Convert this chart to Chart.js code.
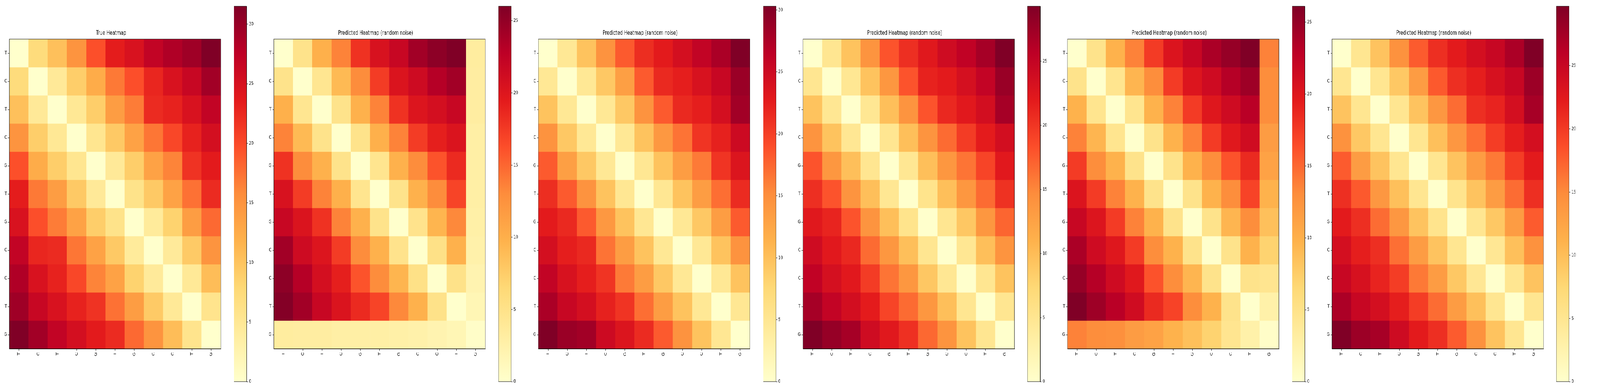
<!DOCTYPE html>
<html>
<head>
<meta charset="utf-8">
<script src="https://cdn.jsdelivr.net/npm/chart.js@4.4.1/dist/chart.umd.min.js"></script>
<style>
  html, body { margin: 0; background: #fff; overflow: hidden; }
  #wrap { position: absolute; left: 0; top: 0; width: 6000px; height: 1000px; transform-origin: 0 0; }
  canvas { position: absolute; top: 0; }
</style>
</head>
<body>
<div id="wrap"></div>
<script>
// sequence labels, both axes
var seq = ['T', 'C', 'T', 'C', 'G', 'T', 'G', 'C', 'C', 'T', 'G'];

var titles = ['True Heatmap', 'Predicted Heatmap (random noise)', 'Predicted Heatmap (random noise)',
  'Predicted Heatmap (random noise)', 'Predicted Heatmap (random noise)', 'Predicted Heatmap (random noise)'];

var cbTicks = [0, 5, 10, 15, 20, 25, 30];

var trueHeat = [
  [0, 7.3, 10.4, 15.0, 19.6, 23.5, 24.8, 27.0, 28.4, 29.5, 31.5],
  [7.3, 0, 4.7, 9.0, 12.5, 17.0, 19.7, 22.7, 24.8, 26.5, 29.3],
  [10.4, 4.7, 0, 5.0, 9.0, 14.0, 16.8, 22.3, 23.0, 24.8, 27.0],
  [15.0, 9.0, 5.0, 0, 5.4, 9.5, 13.5, 17.2, 20.2, 23.0, 25.3],
  [19.6, 12.5, 9.0, 5.4, 0, 4.7, 9.0, 13.5, 16.3, 21.7, 23.6],
  [23.5, 17.0, 14.0, 9.5, 4.7, 0, 6.0, 9.5, 13.5, 17.5, 22.3],
  [24.8, 19.7, 16.8, 13.5, 9.0, 6.0, 0, 4.4, 8.5, 14.0, 18.0],
  [27.0, 22.7, 22.3, 17.2, 13.5, 9.5, 4.4, 0, 4.5, 9.4, 15.0],
  [28.4, 24.8, 23.0, 20.2, 16.3, 13.5, 8.5, 4.5, 0, 4.8, 10.7],
  [29.5, 26.5, 24.8, 23.0, 21.7, 17.5, 14.0, 9.4, 4.8, 0, 5.7],
  [31.5, 29.3, 27.0, 25.3, 23.6, 22.3, 18.0, 15.0, 10.7, 5.7, 0]
];

var pred1 = [
  [0, 4.9, 9.9, 13.5, 18.0, 20.5, 21.9, 24.2, 25.3, 26.0, 3.3],
  [4.9, 0, 4.4, 9.1, 13.0, 17.4, 20.3, 21.4, 23.1, 24.2, 3.2],
  [9.9, 4.4, 0, 4.9, 9.8, 13.5, 18.0, 20.1, 20.9, 21.9, 3.2],
  [13.5, 9.1, 4.9, 0, 4.9, 9.9, 13.5, 17.4, 19.2, 20.3, 2.9],
  [18.0, 13.0, 9.8, 4.9, 0, 4.6, 9.8, 13.0, 16.0, 18.5, 2.9],
  [20.5, 17.4, 13.5, 9.9, 4.6, 0, 4.9, 9.8, 13.0, 16.9, 2.9],
  [21.9, 20.3, 18.0, 13.5, 9.8, 4.9, 0, 4.8, 9.5, 13.2, 2.7],
  [24.2, 21.4, 20.1, 17.4, 13.0, 9.8, 4.8, 0, 5.2, 9.8, 2.5],
  [25.3, 23.1, 20.9, 19.2, 16.0, 13.0, 9.5, 5.2, 0, 5.0, 2.1],
  [25.8, 24.2, 21.9, 20.3, 18.5, 16.9, 13.2, 9.8, 5.0, 0, 1.7],
  [3.3, 3.2, 3.2, 2.9, 2.9, 2.9, 2.7, 2.5, 2.1, 1.7, 0.3]
];

var pred2 = [
  [0, 4.8, 9.7, 14.5, 18.2, 21.3, 22.7, 24.3, 26.0, 27.6, 30.3],
  [4.8, 0, 4.8, 9.2, 13.3, 18.2, 21.6, 22.4, 23.9, 25.5, 28.7],
  [9.7, 4.8, 0, 4.8, 9.2, 14.5, 18.2, 21.6, 22.4, 24.3, 28.2],
  [14.5, 9.2, 4.8, 0, 4.8, 9.7, 14.0, 16.7, 20.8, 22.2, 25.0],
  [18.2, 13.3, 9.2, 4.8, 0, 5.0, 9.7, 13.5, 16.3, 20.8, 23.5],
  [21.3, 18.2, 14.5, 9.7, 5.0, 0, 5.0, 9.7, 13.5, 17.0, 21.5],
  [22.7, 21.6, 18.2, 14.0, 9.7, 5.0, 0, 4.8, 9.2, 13.5, 18.2],
  [24.3, 22.4, 21.6, 16.7, 13.5, 9.7, 4.8, 0, 4.8, 9.7, 14.5],
  [26.0, 23.9, 22.4, 20.8, 16.3, 13.5, 9.2, 4.8, 0, 4.8, 9.7],
  [27.6, 25.5, 24.3, 22.2, 20.8, 17.0, 13.5, 9.7, 4.8, 0, 5.0],
  [30.3, 28.7, 28.2, 25.0, 23.5, 21.5, 18.2, 14.5, 9.7, 5.0, 0]
];

var pred3 = [
  [0, 5.0, 9.4, 14.0, 18.0, 20.5, 22.3, 24.0, 25.3, 27.0, 29.3],
  [5.0, 0, 4.8, 9.4, 13.7, 18.0, 21.4, 22.0, 23.4, 25.1, 27.8],
  [9.4, 4.8, 0, 4.8, 9.8, 14.0, 18.0, 21.0, 22.2, 23.6, 27.0],
  [14.0, 9.4, 4.8, 0, 5.0, 9.8, 14.0, 16.6, 19.6, 21.9, 23.6],
  [18.0, 13.7, 9.8, 5.0, 0, 4.8, 9.8, 13.7, 16.1, 19.0, 22.2],
  [20.5, 18.0, 14.0, 9.8, 4.8, 0, 5.4, 9.8, 13.7, 16.6, 20.3],
  [22.3, 21.3, 18.0, 14.0, 9.8, 5.4, 0, 5.0, 9.0, 13.7, 17.0],
  [24.0, 22.2, 21.0, 16.6, 13.7, 9.8, 5.0, 0, 4.8, 9.8, 14.0],
  [25.3, 23.4, 22.2, 19.6, 16.1, 13.7, 9.0, 4.8, 0, 5.0, 9.4],
  [27.0, 25.1, 23.6, 21.9, 19.0, 16.6, 13.7, 9.8, 5.0, 0, 5.0],
  [29.3, 28.0, 27.0, 24.0, 22.3, 20.4, 16.8, 14.0, 9.4, 5.0, 0]
];

var pred4 = [
  [0, 4.9, 9.8, 13.6, 17.5, 20.3, 22.0, 23.8, 24.9, 26.1, 13.6],
  [4.9, 0, 4.6, 9.5, 13.0, 17.5, 20.2, 21.4, 23.2, 24.5, 13.0],
  [9.8, 4.6, 0, 4.6, 9.8, 13.6, 17.5, 20.0, 21.4, 23.0, 13.0],
  [13.6, 9.5, 4.6, 0, 4.9, 9.8, 13.6, 17.5, 19.8, 21.3, 11.7],
  [17.5, 13.0, 9.8, 4.9, 0, 4.9, 9.8, 13.0, 16.1, 18.6, 11.2],
  [20.3, 17.5, 13.6, 9.8, 4.9, 0, 4.9, 9.8, 13.0, 17.0, 9.8],
  [22.0, 20.2, 17.5, 13.6, 9.8, 4.9, 0, 4.9, 9.5, 13.0, 8.6],
  [23.8, 21.4, 20.0, 17.5, 13.0, 9.8, 4.9, 0, 4.9, 9.8, 7.0],
  [24.9, 23.2, 21.4, 19.8, 16.1, 13.0, 9.5, 4.9, 0, 4.9, 4.5],
  [26.1, 24.5, 23.0, 21.3, 18.6, 17.0, 13.0, 9.8, 4.9, 0, 2.6],
  [13.6, 13.0, 12.8, 11.7, 11.2, 9.8, 8.6, 7.0, 4.5, 2.6, 0.3]
];

var pred5 = [
  [0, 5.0, 9.5, 14.3, 17.8, 20.8, 22.3, 23.8, 25.0, 27.0, 29.7],
  [5.0, 0, 5.0, 9.0, 13.3, 17.9, 20.8, 22.0, 23.5, 25.0, 28.0],
  [9.5, 5.0, 0, 5.0, 9.5, 13.8, 16.8, 20.8, 21.6, 23.8, 27.3],
  [14.3, 9.0, 5.0, 0, 5.0, 9.8, 13.8, 16.6, 19.8, 22.0, 23.8],
  [17.8, 13.3, 9.5, 5.0, 0, 5.0, 9.5, 13.3, 16.0, 19.8, 22.3],
  [20.8, 17.9, 13.8, 9.8, 5.0, 0, 5.4, 9.5, 13.3, 16.8, 20.8],
  [22.3, 20.8, 16.8, 13.8, 9.5, 5.4, 0, 5.0, 9.0, 13.3, 17.8],
  [23.8, 22.0, 20.8, 16.6, 13.3, 9.5, 5.0, 0, 4.8, 9.8, 14.3],
  [25.0, 23.5, 21.6, 19.8, 16.0, 13.3, 9.0, 4.8, 0, 5.0, 9.5],
  [27.0, 25.0, 23.8, 22.0, 19.8, 16.8, 13.3, 9.8, 5.0, 0, 5.0],
  [29.7, 28.0, 27.3, 24.4, 22.3, 20.8, 17.8, 14.3, 9.5, 5.0, 0]
];

var matrices = [trueHeat, pred1, pred2, pred3, pred4, pred5];

// layout (pixels, in the 6000-wide figure)
var plotLefts = [35, 1027, 2019, 3011, 4003, 4995];
var cbLefts = [877, 1869, 2862, 3853, 4845, 5836];
var plotSize = 793;
var yAxisW = 30;
var cbW = 48;

// the window may come out narrower than 6000, squeeze the figure to fit
var wrap = document.getElementById('wrap');
var sx = Math.min(1, window.innerWidth / 6000);
wrap.style.transform = 'scale(' + sx + ', 1)';

var ylorrd = [[255,255,204],[255,237,160],[254,217,118],[254,178,76],[253,141,60],
  [252,78,42],[227,26,28],[189,0,38],[128,0,38]];

function rgb(c) { return 'rgb(' + c[0] + ',' + c[1] + ',' + c[2] + ')'; }

function cmap(t) {
  t = Math.max(0, Math.min(1, t));
  var s = t * 8, i = Math.min(7, Math.floor(s)), f = s - i;
  var a = ylorrd[i], b = ylorrd[i + 1];
  return rgb([0, 1, 2].map(function(k) { return Math.round(a[k] + (b[k] - a[k]) * f); }));
}

var font = { family: 'DejaVu Sans', size: 13 };

var frame = {
  id: 'frame',
  afterDraw: function(chart) {
    var a = chart.chartArea, c = chart.ctx;
    c.save();
    c.strokeStyle = '#000';
    c.lineWidth = 1;
    c.strokeRect(a.left, a.top, a.right - a.left, a.bottom - a.top);
    c.restore();
  }
};

function makeCanvas(left, w) {
  var cv = document.createElement('canvas');
  cv.width = w; cv.height = 1000;
  cv.style.left = left + 'px';
  cv.style.width = w + 'px'; cv.style.height = '1000px';
  wrap.appendChild(cv);
  return cv;
}

matrices.forEach(function(m, p) {
  var vmax = Math.max.apply(null, m.map(function(r) { return Math.max.apply(null, r); }));

  var datasets = m.map(function(row, r) {
    return {
      data: row.map(function() { return [r, r + 1]; }),
      backgroundColor: row.map(function(v) { return cmap(v / vmax); }),
      borderWidth: 0,
      barPercentage: 1,
      categoryPercentage: 1,
      grouped: false
    };
  });

  new Chart(makeCanvas(plotLefts[p] - yAxisW, yAxisW + plotSize + 10), {
    type: 'bar',
    data: { labels: seq, datasets: datasets },
    options: {
      responsive: false,
      animation: false,
      layout: { padding: { top: 74.8, bottom: 68, left: 0, right: 10 } },
      plugins: {
        legend: { display: false },
        tooltip: { enabled: false },
        title: {
          display: true, text: titles[p], color: '#000',
          font: { family: 'DejaVu Sans', size: 16, weight: 'normal' },
          padding: { top: 0, bottom: 6 }
        }
      },
      scales: {
        x: {
          type: 'category',
          grid: { offset: false, drawOnChartArea: false, tickLength: 5, color: '#000' },
          border: { color: '#000' },
          ticks: { color: '#000', font: font, minRotation: 90, maxRotation: 90, padding: 4, autoSkip: false },
          afterFit: function(s) { s.height = 40; }
        },
        y: {
          type: 'linear', min: 0, max: seq.length, reverse: true,
          afterBuildTicks: function(s) {
            s.ticks = seq.map(function(_, i) { return { value: i + 0.5 }; });
          },
          ticks: { color: '#000', font: font, padding: 4, callback: function(v, i) { return seq[i]; } },
          grid: { drawOnChartArea: false, tickLength: 5, color: '#000' },
          border: { color: '#000' },
          afterFit: function(s) { s.width = yAxisW; }
        }
      }
    },
    plugins: [frame]
  });

  new Chart(makeCanvas(cbLefts[p], cbW + 50), {
    type: 'bar',
    data: {
      labels: [''],
      datasets: [{
        data: [[0, vmax]],
        barPercentage: 1,
        categoryPercentage: 1,
        borderWidth: 0,
        backgroundColor: function(ctx) {
          var ch = ctx.chart;
          if (!ch.chartArea) return null;
          var y = ch.scales.y;
          var g = ch.ctx.createLinearGradient(0, y.getPixelForValue(0), 0, y.getPixelForValue(vmax));
          ylorrd.forEach(function(c, i) { g.addColorStop(i / 8, rgb(c)); });
          return g;
        }
      }]
    },
    options: {
      responsive: false,
      animation: false,
      layout: { padding: { top: 16, bottom: 24, left: 0, right: 0 } },
      plugins: { legend: { display: false }, tooltip: { enabled: false } },
      scales: {
        x: { display: false },
        y: {
          position: 'right', min: 0, max: vmax,
          afterBuildTicks: function(s) {
            s.ticks = cbTicks.filter(function(t) { return t <= vmax; }).map(function(t) { return { value: t }; });
          },
          ticks: { color: '#000', font: font, padding: 4 },
          grid: { drawOnChartArea: false, tickLength: 5, color: '#000' },
          border: { color: '#000' },
          afterFit: function(s) { s.width = 50; }
        }
      }
    },
    plugins: [frame]
  });
});
</script>
</body>
</html>
